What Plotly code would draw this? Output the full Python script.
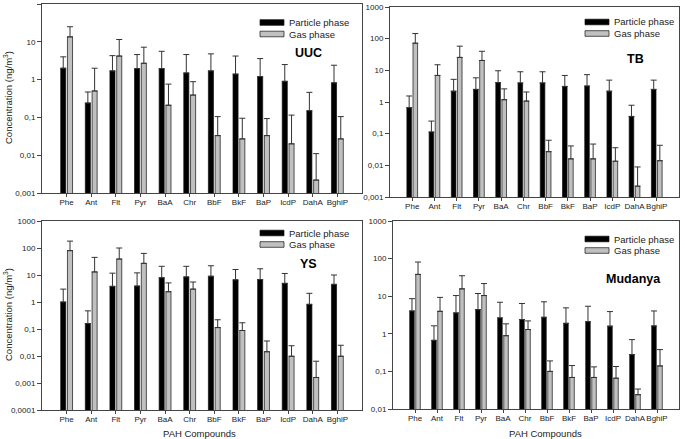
import plotly.graph_objects as go

compounds = ['Phe', 'Ant', 'Flt', 'Pyr', 'BaA', 'Chr', 'BbF', 'BkF', 'BaP', 'IcdP', 'DahA', 'BghiP']

# mean concentrations and upper ends of the error bars (ng/m3)
uuc_particle = [2.0, 0.24, 1.7, 1.95, 1.95, 1.5, 1.7, 1.4, 1.2, 0.9, 0.15, 0.82]
uuc_particle_hi = [4.0, 0.47, 4.3, 4.6, 5.6, 4.6, 4.8, 4.2, 3.6, 2.5, 0.46, 2.4]
uuc_gas = [13.5, 0.5, 4.2, 2.7, 0.21, 0.39, 0.033, 0.027, 0.033, 0.02, 0.0022, 0.027]
uuc_gas_hi = [25, 2.0, 11.5, 7.2, 0.76, 0.88, 0.105, 0.095, 0.093, 0.115, 0.011, 0.105]

tb_particle = [0.66, 0.113, 2.2, 2.5, 4.1, 4.0, 4.0, 3.1, 3.2, 2.2, 0.35, 2.5]
tb_particle_hi = [1.55, 0.25, 5.2, 5.8, 9.7, 9.0, 9.0, 6.9, 7.3, 4.9, 0.79, 4.9]
tb_gas = [72, 6.9, 25.6, 20.5, 1.18, 1.07, 0.027, 0.016, 0.016, 0.0135, 0.0022, 0.014]
tb_gas_hi = [145, 15, 58, 40, 2.6, 2.07, 0.062, 0.041, 0.047, 0.036, 0.0089, 0.043]

ys_particle = [1.0, 0.16, 3.8, 3.9, 7.9, 8.5, 9.0, 6.6, 6.8, 4.9, 0.82, 4.5]
ys_particle_hi = [3.0, 0.47, 11.7, 12, 21, 21, 22, 16, 17, 11.4, 2.1, 10]
ys_gas = [80, 13, 39, 27, 2.4, 3.0, 0.113, 0.088, 0.0144, 0.0098, 0.0016, 0.0098]
ys_gas_hi = [180, 45, 100, 63, 5.1, 5.5, 0.22, 0.17, 0.036, 0.024, 0.0064, 0.025]

mud_particle = [4.05, 0.67, 3.6, 4.4, 2.65, 2.4, 2.75, 1.9, 2.1, 1.6, 0.28, 1.62]
mud_particle_hi = [8.6, 1.63, 10.4, 11.8, 6.9, 6.4, 7.1, 4.9, 5.4, 3.9, 0.70, 4.05]
mud_gas = [38, 3.96, 15.7, 10.4, 0.89, 1.3, 0.1, 0.069, 0.069, 0.066, 0.024, 0.14]
mud_gas_hi = [81, 9.3, 35, 21.7, 1.84, 2.2, 0.19, 0.143, 0.132, 0.135, 0.034, 0.38]

tick_vals = [0.0001, 0.001, 0.01, 0.1, 1, 10, 100, 1000]
tick_text = ['0,0001', '0,001', '0,01', '0,1', '1', '10', '100', '1000']

W, H = 685, 439
FONT = 'Liberation Sans'
INK = '#222222'


def px(x):
    return x / W


def py(y):
    return 1 - y / H


def note(text, x, y, size, **kw):
    return dict(text=text, x=px(x), y=py(y), xref='paper', yref='paper',
                xanchor=kw.pop('xanchor', 'center'), yanchor='middle', showarrow=False,
                font=dict(size=size, family=FONT, color=kw.pop('color', INK)), **kw)


# name, data, x-domain px, y-domain px (top, bottom), log range, legend px, label px
panels = [
    ('UUC', (uuc_particle, uuc_particle_hi, uuc_gas, uuc_gas_hi), (42, 362), (4, 193), (-3, 2), (260, 22.5), (308, 53)),
    ('TB', (tb_particle, tb_particle_hi, tb_gas, tb_gas_hi), (390, 679), (7, 197), (-3, 3), (585, 22), (635, 59)),
    ('YS', (ys_particle, ys_particle_hi, ys_gas, ys_gas_hi), (42, 362), (221, 410), (-4, 3), (260, 233), (308, 264)),
    ('Mudanya', (mud_particle, mud_particle_hi, mud_gas, mud_gas_hi), (393, 679), (221, 409), (-2, 3), (585, 239), (633, 279)),
]

fig = go.Figure()
shapes = []
annotations = []

for i, (name, data, xd, yd, yr, leg, lab) in enumerate(panels):
    n = '' if i == 0 else str(i + 1)
    part, part_hi, gas, gas_hi = data
    for vals, hi, color in ((part, part_hi, 'black'), (gas, gas_hi, '#c0c0c0')):
        fig.add_trace(go.Bar(
            x=compounds, y=vals,
            xaxis='x' + n, yaxis='y' + n,
            marker=dict(color=color, line=dict(color='#111111', width=0.7)),
            error_y=dict(type='data', symmetric=False,
                         array=[h - v for h, v in zip(hi, vals)],
                         arrayminus=[0] * len(vals),
                         color='#333333', thickness=1, width=3),
            showlegend=False,
        ))
    axis_common = dict(showline=True, mirror=True, linecolor='#444444', linewidth=1,
                       ticks='outside', tickcolor='#444444', ticklen=3, showgrid=False,
                       zeroline=False, tickfont=dict(size=8, family=FONT, color=INK))
    fig.layout['xaxis' + n] = dict(axis_common, domain=[px(xd[0]), px(xd[1])],
                                   anchor='y' + n, range=[-1, 12], type='category',
                                   tickangle=0, ticklabelstandoff=-2)
    fig.layout['yaxis' + n] = dict(axis_common, domain=[py(yd[1]), py(yd[0])],
                                   anchor='x' + n, type='log', range=list(yr),
                                   tickvals=tick_vals, ticktext=tick_text, ticklen=4)

    # legend drawn by hand: wide swatches as in the original
    lx, ly = leg
    for k, (color, txt) in enumerate((('black', 'Particle phase'), ('#c0c0c0', 'Gas phase'))):
        yy = ly + k * 11.5
        shapes.append(dict(type='rect', xref='paper', yref='paper',
                           x0=px(lx), x1=px(lx + 24), y0=py(yy + 2.8), y1=py(yy - 2.8),
                           fillcolor=color, line=dict(color='#111111', width=0.7)))
        annotations.append(note(txt, lx + 27, yy, 9.5, xanchor='left'))
    annotations.append(note('<b>' + name + '</b>', lab[0], lab[1], 12.5, color='black'))

# y titles on the left panels, x titles below the bottom panels
for yc in (98, 315):
    annotations.append(note('Concentration (ng/m<sup>3</sup>)', 8, yc, 9.5, textangle=-90))
for xc in (200, 545):
    annotations.append(note('PAH Compounds', xc, 433, 9.5))

fig.update_layout(
    width=W, height=H,
    margin=dict(l=0, r=0, t=0, b=0, autoexpand=False),
    paper_bgcolor='white', plot_bgcolor='white',
    barmode='group', bargap=0.45, bargroupgap=0.25,
    shapes=shapes, annotations=annotations,
    font=dict(family=FONT, color=INK),
)

# drop the page's default body margin so the figure sits at the window corner
fig.write_html('out.html', config={'displayModeBar': False},
               post_script="document.body.style.margin='0';")
